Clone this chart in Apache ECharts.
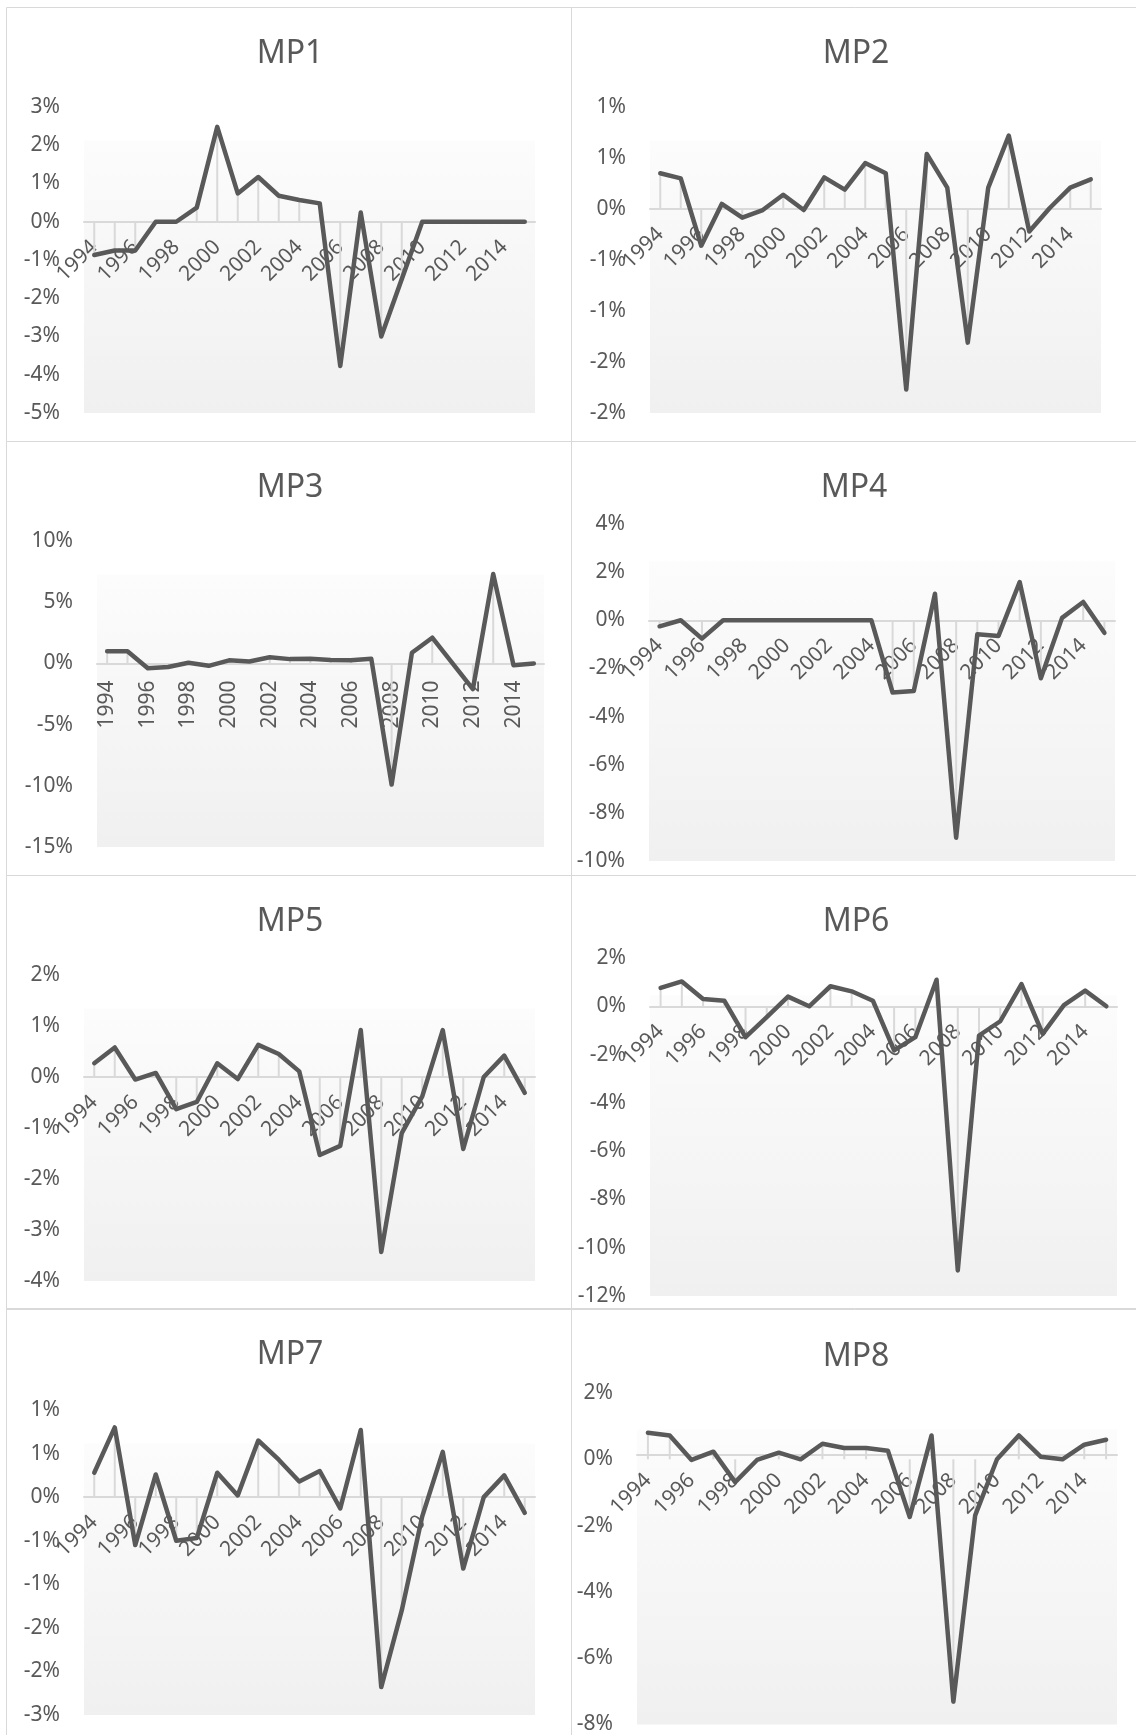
<!DOCTYPE html>
<html>
<head>
<meta charset="utf-8">
<script src="https://cdn.jsdelivr.net/npm/echarts@6/dist/echarts.min.js"></script>
<style>
html,body{margin:0;padding:0;background:#ffffff;}
#chart{width:1136px;height:1735px;}
</style>
</head>
<body>
<div id="chart"></div>
<script>
// ---- data (values in percent) ----
const years = ['1994','1995','1996','1997','1998','1999','2000','2001','2002','2003','2004',
               '2005','2006','2007','2008','2009','2010','2011','2012','2013','2014','2015'];
const titles = ['MP1','MP2','MP3','MP4','MP5','MP6','MP7','MP8'];

const mp1 = [-0.87,-0.75,-0.75,0,0,0.37,2.48,0.74,1.17,0.68,0.57,0.48,-3.77,0.24,-3.0,-1.5,0,0,0,0,0,0];
const mp2 = [0.35,0.30,-0.36,0.05,-0.085,-0.01,0.14,-0.01,0.31,0.19,0.45,0.35,-1.77,0.54,0.21,-1.31,0.21,0.72,-0.22,0.01,0.21,0.29];
const mp3 = [1.0,1.0,-0.4,-0.3,0.05,-0.2,0.25,0.15,0.5,0.35,0.38,0.28,0.25,0.38,-9.9,0.87,2.1,0.0,-2.1,7.3,-0.15,0.0];
const mp4 = [-0.25,0,-0.76,0,0,0,0,0,0,0,0,-3.0,-2.94,1.1,-9.03,-0.58,-0.65,1.59,-2.41,0.1,0.76,-0.52];
const mp5 = [0.27,0.58,-0.05,0.08,-0.63,-0.49,0.27,-0.04,0.63,0.45,0.11,-1.53,-1.35,0.92,-3.43,-1.1,-0.38,0.92,-1.41,0.0,0.42,-0.31];
const mp6 = [0.76,1.03,0.3,0.23,-1.28,-0.45,0.4,0,0.83,0.62,0.23,-1.83,-1.28,1.1,-10.94,-1.21,-0.62,0.92,-1.14,0.05,0.65,0.0];
const mp7 = [0.28,0.80,-0.55,0.26,-0.50,-0.47,0.28,0.02,0.65,0.43,0.18,0.30,-0.13,0.77,-2.18,-1.30,-0.22,0.52,-0.82,0.0,0.25,-0.18];
const mp8 = [0.8,0.72,-0.02,0.23,-0.69,-0.02,0.2,0,0.47,0.34,0.34,0.26,-1.74,0.72,-7.31,-1.69,0.0,0.72,0.08,0.0,0.44,0.59];

// y-axis ranges (percent)
const yMins  = [-5, -2, -15, -10, -4, -12, -2.5, -8];
const yMaxs  = [ 3,  1,  10,   4,  2,   2,  1,    2];
const ySteps = [ 1, 0.5,  5,   2,  1,   2,  0.5,  2];

const seriesData = [mp1, mp2, mp3, mp4, mp5, mp6, mp7, mp8];

// ---- layout (pixels) ----
const layout = [
  {grid:{left:84, top:107, width:451, height:306}, tx:290, ty:52,   rot:45, m:22},
  {grid:{left:650,top:107, width:451, height:306}, tx:856, ty:52,   rot:45, m:22},
  {grid:{left:97, top:541, width:447, height:306}, tx:290, ty:486,  rot:90, m:17},
  {grid:{left:649,top:524, width:466, height:337}, tx:854, ty:486,  rot:45, m:22},
  {grid:{left:84, top:975, width:451, height:306}, tx:290, ty:920,  rot:45, m:22},
  {grid:{left:650,top:958, width:467, height:338}, tx:856, ty:920,  rot:45, m:22},
  {grid:{left:84, top:1410,width:451, height:305}, tx:290, ty:1353, rot:45, m:22},
  {grid:{left:637,top:1393,width:480, height:337}, tx:856, ty:1355, rot:45, m:22}
];
const rowTops = [7, 441, 875, 1308];

const FONT = '"Noto Sans", "Open Sans", sans-serif';
const TXT = '#595959';

function pctLabel(v){
  const r = Math.round(Math.abs(v) + 1e-9);
  return (v < 0 && r !== 0 ? '-' : '') + r + '%';
}

const chart = echarts.init(document.getElementById('chart'), null, {renderer:'canvas'});

const grids = [], xAxes = [], yAxes = [], series = [], titleArr = [], graphics = [];

rowTops.forEach(function(t){
  graphics.push({type:'rect', silent:true, z:-10,
    shape:{x:6.5, y:t+0.5, width:565, height:434},
    style:{fill:null, stroke:'#d9d9d9', lineWidth:1}});
  graphics.push({type:'rect', silent:true, z:-10,
    shape:{x:571.5, y:t+0.5, width:600, height:434},
    style:{fill:null, stroke:'#d9d9d9', lineWidth:1}});
});

titles.forEach(function(name, i){
  const L = layout[i];
  // place the category axis at the value 0 of the y axis
  const zeroOffset = -L.grid.height * (0 - yMins[i]) / (yMaxs[i] - yMins[i]);
  grids.push(Object.assign({
    show:true, borderWidth:0, containLabel:false,
    backgroundColor: new echarts.graphic.LinearGradient(0,0,0,1,[
      {offset:0, color:'#ffffff'},
      {offset:0.108, color:'#ffffff'},
      {offset:0.112, color:'#fcfcfc'},
      {offset:1, color:'#f0f0f0'}
    ])
  }, L.grid));
  titleArr.push({
    text:name, left:L.tx, top:L.ty - 14, textAlign:'center', padding:0,
    textStyle:{fontFamily:FONT, fontSize:32, fontWeight:'normal', color:TXT}
  });
  xAxes.push({
    gridIndex:i, type:'category', data:years, boundaryGap:true,
    position:'bottom', offset:zeroOffset,
    axisLine:{onZero:false, lineStyle:{color:'#d9d9d9', width:2}},
    axisTick:{show:false},
    splitLine:{show:false},
    axisLabel:{interval:1, rotate:L.rot, margin:L.m, color:TXT, fontSize:21, fontFamily:FONT}
  });
  yAxes.push({
    gridIndex:i, type:'value', min:yMins[i], max:yMaxs[i], interval:ySteps[i],
    axisLine:{show:false}, axisTick:{show:false}, splitLine:{show:false},
    axisLabel:{color:TXT, fontSize:21, fontFamily:FONT, margin:24, formatter:pctLabel}
  });
  series.push({
    type:'bar', xAxisIndex:i, yAxisIndex:i, data:seriesData[i],
    barWidth:2, itemStyle:{color:'#d9d9d9'}, silent:true, z:1
  });
  series.push({
    type:'line', name:name, xAxisIndex:i, yAxisIndex:i, data:seriesData[i],
    symbol:'none', z:3,
    lineStyle:{color:'#595959', width:4.5, join:'round', cap:'round'}
  });
});

chart.setOption({
  animation:false,
  backgroundColor:'#ffffff',
  title:titleArr,
  grid:grids,
  xAxis:xAxes,
  yAxis:yAxes,
  series:series,
  graphic:graphics
});
</script>
</body>
</html>
